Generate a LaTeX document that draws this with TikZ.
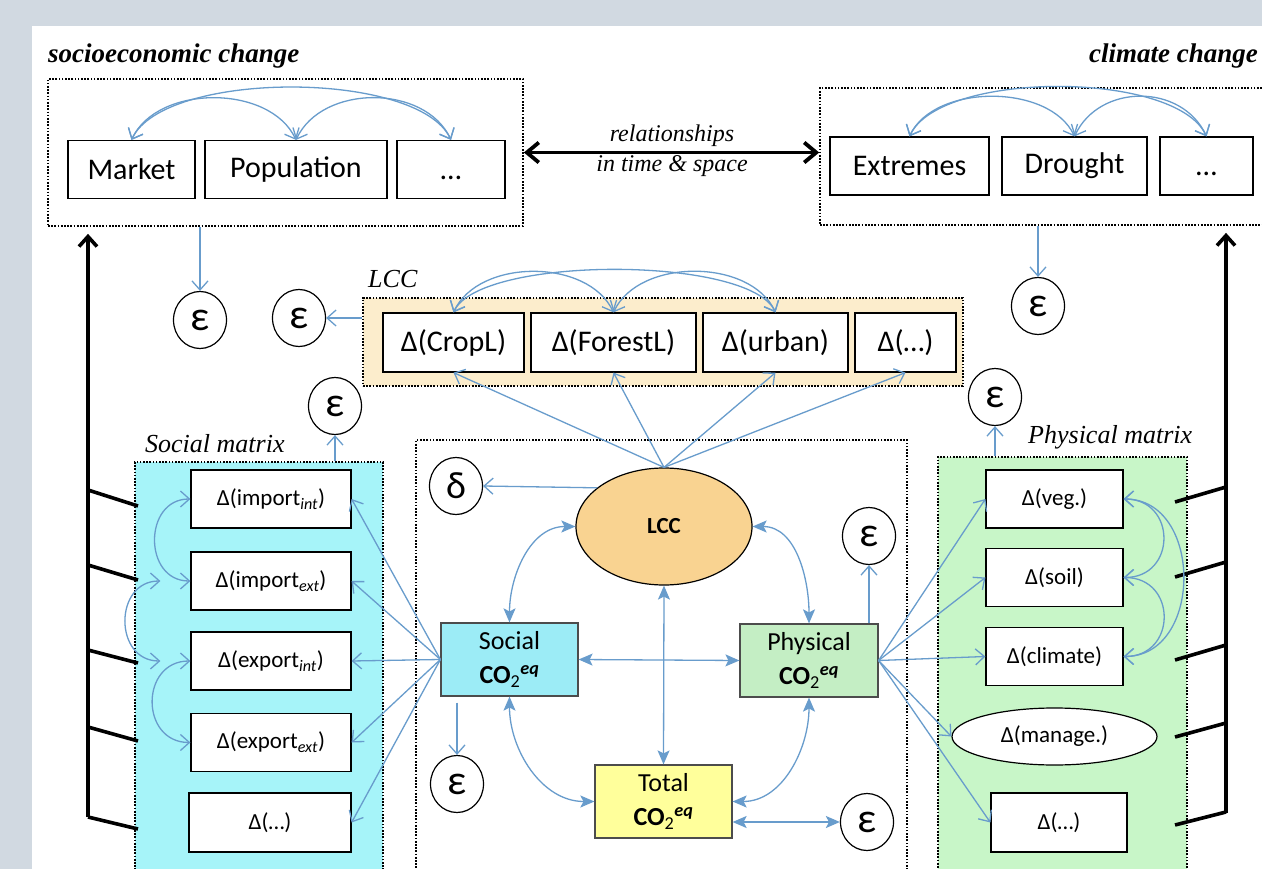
\documentclass[tikz,border=0pt]{standalone}
\usepackage{fontspec}
\setmainfont{Carlito}
\newfontfamily\serifrm{Liberation Serif}
\usetikzlibrary{arrows.meta,shapes.geometric,calc}
\definecolor{bggrey}{RGB}{209,217,225}
\definecolor{arrblue}{RGB}{104,156,204}
\definecolor{cyanbg}{RGB}{166,244,249}
\definecolor{cyanbox}{RGB}{156,236,246}
\definecolor{greenbg}{RGB}{200,246,200}
\definecolor{greenbox}{RGB}{196,238,196}
\definecolor{creambg}{RGB}{252,237,204}
\definecolor{orangeell}{RGB}{249,211,145}
\definecolor{yellowbox}{RGB}{255,255,155}
\newcommand\cotwo{\textbf{CO}\textsubscript{2}\textsuperscript{\textbf{\textit{eq}}}}
\begin{document}
\begin{tikzpicture}[x=1pt,y=-1pt,
  Vt/.tip={Straight Barb[length=9pt,width=16pt]},
  Ft/.tip={Stealth[length=14pt,width=12pt,inset=3pt]},
  bl/.style={draw=arrblue, line width=1.3pt},
  va/.style={bl,-Vt},
  vb/.style={bl,Vt-Vt},
  fb/.style={bl,Ft-Ft},
  dotbox/.style={draw=black, line width=1.7pt, dash pattern=on 1.7pt off 1.5pt, inner sep=0pt},
  bx/.style={draw=black, line width=1.2pt, fill=white, inner sep=0pt, align=center},
  topbox/.style={bx, minimum height=58pt, font=\fontsize{30}{34}\selectfont},
  lbox/.style={bx, minimum height=59pt, font=\fontsize{30}{34}\selectfont},
  mbox/.style={bx, minimum width=160pt, minimum height=58pt, font=\fontsize{23}{27}\selectfont},
  pbox/.style={bx, minimum width=137pt, minimum height=58pt, font=\fontsize{23}{27}\selectfont},
  co2/.style={draw=black!70, line width=1.2pt, minimum width=137pt, minimum height=73pt, inner sep=0pt, align=center, font=\fontsize{26}{34}\selectfont},
  eps/.style={ellipse, draw=black, line width=1.2pt, fill=white, minimum width=53pt, minimum height=57pt, inner sep=0pt, font=\fontsize{42}{42}\selectfont},
  ttl/.style={inner sep=0pt, font=\serifrm\itshape\fontsize{26}{30}\selectfont},
  bigarr/.style={draw=black, line width=3.6pt, -{Straight Barb[length=10pt,width=18pt]}},
  tick/.style={draw=black, line width=3.6pt}
]
% background
\fill[bggrey] (0,0) rectangle (1262,869);
\fill[white] (32,26) rectangle (1262,869);
\useasboundingbox (0,0) rectangle (1262,869);

% containers
\node[dotbox, minimum width=475pt, minimum height=147pt] (socio) at (285.5,152.5) {};
\node[dotbox, minimum width=450pt, minimum height=137pt] (clim) at (1045,156.5) {};
\node[dotbox, fill=creambg, minimum width=600pt, minimum height=88pt] (lccbox) at (663,342) {};
\node[dotbox, minimum width=491pt, minimum height=470pt] (central) at (661.5,675) {};
\node[dotbox, fill=cyanbg, minimum width=248pt, minimum height=448pt] (smat) at (259,686) {};
\node[dotbox, fill=greenbg, minimum width=249pt, minimum height=453pt] (pmat) at (1062.5,683.5) {};

% titles
\node[anchor=base west, inner sep=0pt, font=\serifrm\bfseries\itshape\fontsize{27}{30}\selectfont] (tsocio) at (48,63) {socioeconomic change};
\node[anchor=base east, inner sep=0pt, font=\serifrm\bfseries\itshape\fontsize{27}{30}\selectfont] (tclim) at (1258,63) {climate change};
\node[anchor=base, inner sep=0pt, font=\serifrm\itshape\fontsize{24}{28}\selectfont] (rel1) at (672,142) {relationships};
\node[anchor=base, inner sep=0pt, font=\serifrm\itshape\fontsize{24}{28}\selectfont] (rel2) at (672,172) {in time \& space};
\node[ttl, anchor=base west] (tlcc) at (368,288) {LCC};
\node[ttl, anchor=base west] (tsm) at (145,452) {Social matrix};
\node[ttl, anchor=base west] (tpm) at (1028,443) {Physical matrix};

% top boxes
\node[topbox, minimum width=127pt] (market) at (131.5,169.5) {Market};
\node[topbox, minimum width=182pt] (pop) at (296,169.5) {Population};
\node[topbox, minimum width=108pt] (sd) at (451,169.5) {\vphantom{M}…};
\node[topbox, minimum width=159pt] (ext) at (909.5,166) {Extremes};
\node[topbox, minimum width=145pt] (dr) at (1074.5,166) {Drought};
\node[topbox, minimum width=93pt] (cd) at (1206.5,166) {\vphantom{M}…};

% LCC boxes
\node[lbox, minimum width=141pt] (cropl) at (453.5,342.5) {Δ(CropL)};
\node[lbox, minimum width=165pt] (forestl) at (613.5,342.5) {Δ(ForestL)};
\node[lbox, minimum width=145pt] (urban) at (775.5,342.5) {Δ(urban)};
\node[lbox, minimum width=101pt] (ld) at (905.5,342.5) {Δ(…)};

% central
\node[ellipse, draw=black, line width=1.2pt, fill=orangeell, minimum width=176pt, minimum height=117pt, inner sep=0pt, font=\bfseries\fontsize{23}{26}\selectfont] (lcc) at (664,526.5) {LCC};
\node[co2, fill=cyanbox] (soc) at (509.5,659.5) {Social\\\cotwo};
\node[co2, fill=greenbox, minimum width=138pt] (phys) at (809,660.5) {Physical\\\cotwo};
\node[co2, fill=yellowbox] (tot) at (663.5,801.5) {Total\\\cotwo};

% social matrix boxes
\node[mbox] (mi1) at (271,499) {Δ(import\textsubscript{\textit{int}})};
\node[mbox] (mi2) at (271,581) {Δ(import\textsubscript{\textit{ext}})};
\node[mbox] (me1) at (271,661) {Δ(export\textsubscript{\textit{int}})};
\node[mbox] (me2) at (271,742.5) {Δ(export\textsubscript{\textit{ext}})};
\node[mbox, minimum width=162pt, minimum height=59pt] (md) at (270,822.5) {Δ(…)};

% physical matrix boxes
\node[pbox] (veg) at (1054.5,499) {Δ(veg.)};
\node[pbox] (soil) at (1054.5,577.5) {Δ(soil)};
\node[pbox] (pclim) at (1054.5,656.5) {Δ(climate)};
\node[ellipse, draw=black, line width=1.2pt, fill=white, inner sep=0pt, minimum width=205pt, minimum height=57pt, font=\fontsize{23}{27}\selectfont] (manage) at (1054.5,736.5) {Δ(manage.)};
\node[pbox, minimum width=136pt, minimum height=59pt] (pd) at (1059,822.5) {Δ(…)};

% error terms
\node[eps] (e1) at (200,320) {ε};
\node[eps] (e2) at (299,318) {ε};
\node[eps] (e3) at (1038,306) {ε};
\node[eps] (e4) at (335,406) {ε};
\node[eps] (e5) at (995,397) {ε};
\node[eps, font=\fontsize{38}{38}\selectfont] (d1) at (456,486) {δ};
\node[eps] (e6) at (869,536) {ε};
\node[eps] (e7) at (457,784) {ε};
\node[eps] (e8) at (867,822) {ε};

% relationships arrow
\draw[draw=black, line width=3.8pt, {Straight Barb[length=12pt,width=20pt]}-{Straight Barb[length=12pt,width=20pt]}] (socio.east) -- (socio.east -| clim.west);

% big black arrows and ticks
\coordinate (lbot) at (88,817);
\coordinate (rbot) at (1226,813);
\draw[bigarr, shorten >=7pt] (lbot) -- (lbot |- socio.south);
\draw[bigarr, shorten >=7pt] (rbot) -- (rbot |- clim.south);
\coordinate (lt1) at (88,490); \coordinate (lt1e) at (138,506);
\coordinate (lt2) at (88,565); \coordinate (lt2e) at (138,580);
\coordinate (lt3) at (88,650); \coordinate (lt3e) at (138,663);
\coordinate (lt4) at (88,727); \coordinate (lt4e) at (138,741);
\coordinate (lt5) at (88,817); \coordinate (lt5e) at (138,829);
\foreach \i in {1,...,5} {\draw[tick] (lt\i) -- (lt\i e);}
\coordinate (rt1) at (1226,487); \coordinate (rt1e) at (1175,502);
\coordinate (rt2) at (1226,562); \coordinate (rt2e) at (1175,577);
\coordinate (rt3) at (1226,645); \coordinate (rt3e) at (1175,660);
\coordinate (rt4) at (1226,723); \coordinate (rt4e) at (1175,737);
\coordinate (rt5) at (1226,812); \coordinate (rt5e) at (1175,825);
\foreach \i in {1,...,5} {\draw[tick] (rt\i) -- (rt\i e);}

% top arcs
\draw[vb] (market.north) to[out=65,in=115,looseness=0.96] (pop.north);
\draw[vb] (pop.north) to[out=65,in=115,looseness=1.02] (sd.north);
\draw[vb] (market.north) to[out=65,in=115,looseness=0.62] (sd.north);
\draw[vb] (ext.north) to[out=65,in=115,looseness=0.91] (dr.north);
\draw[vb] (dr.north) to[out=65,in=115,looseness=1.14] (cd.north);
\draw[vb] (ext.north) to[out=65,in=115,looseness=0.63] (cd.north);
\draw[vb] (cropl.north) to[out=65,in=115,looseness=0.96] (forestl.north);
\draw[vb] (forestl.north) to[out=65,in=115,looseness=0.95] (urban.north);
\draw[vb] (cropl.north) to[out=65,in=115,looseness=0.5] (urban.north);

% error arrows
\draw[va] (socio.south -| e1) -- (e1.north);
\draw[va] (clim.south -| e3) -- (e3.north);
\draw[va] (lccbox.west |- e2) -- (e2.east);
\draw[va] (smat.north -| e4) -- (e4.south);
\draw[va] (pmat.north -| e5) -- (e5.south);
\draw[va] (lcc.150) -- (d1.east);
\draw[va] (phys.north -| e6) -- (e6.south);
\draw[va, shorten <=6pt] (soc.south -| e7) -- (e7.north);
\draw[fb] (tot.east |- e8) -- (e8.west);

% LCC fan
\foreach \t in {cropl,forestl,urban,ld} {\draw[va] (lcc.north) -- (\t.south);}

% central relations
\draw[fb] (lcc.west) to[out=180,in=90] (soc.north);
\draw[fb] (lcc.east) to[out=0,in=90] (phys.north);
\draw[fb] (soc.south) to[out=-90,in=180] (tot.west);
\draw[fb] (phys.south) to[out=-90,in=0] (tot.east);
\draw[fb] (soc.east) -- (phys.west);
\draw[fb] (lcc.south) -- (tot.north);

% social fan
\foreach \t in {mi1,mi2,me1,me2,md} {\draw[va] (soc.west) -- (\t.east);}
% physical fan
\foreach \t in {veg,soil,pclim,manage,pd} {\draw[va] (phys.east) -- (\t.west);}

% social matrix covariances
\draw[vb] (mi1.west) to[out=180,in=180,looseness=1.48] (mi2.west);
\draw[vb] ([xshift=-30pt]mi2.west) to[out=180,in=180,looseness=1.5] ([xshift=-30pt]me1.west);
\draw[vb] (me1.west) to[out=180,in=180,looseness=1.59] (me2.west);
% physical matrix covariances
\draw[vb] (veg.east) to[out=0,in=0,looseness=1.74] (soil.east);
\draw[vb] (soil.east) to[out=0,in=0,looseness=1.74] (pclim.east);
\draw[vb] (veg.east) to[out=0,in=0,looseness=1.3] (pclim.east);
\end{tikzpicture}
\end{document}
